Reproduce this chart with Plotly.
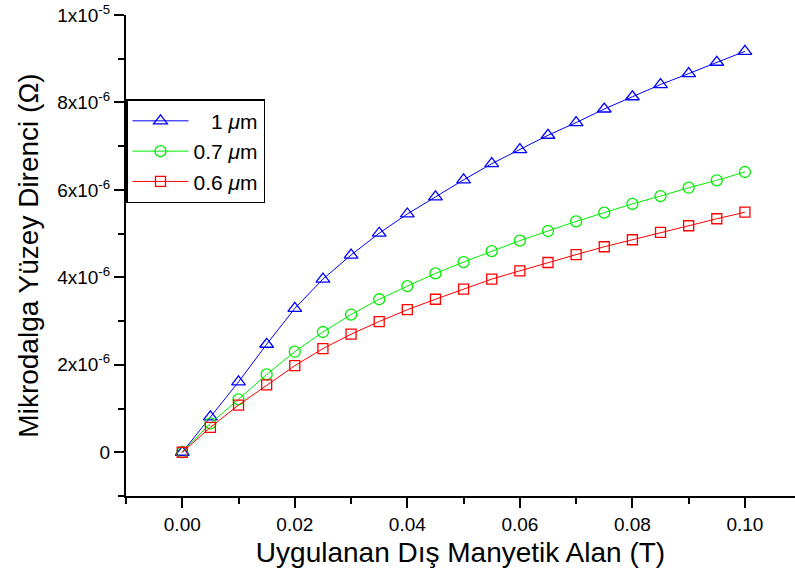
import plotly.graph_objects as go

# Applied external magnetic field (T)
field_T = [0.000, 0.005, 0.010, 0.015, 0.020, 0.025, 0.030, 0.035, 0.040, 0.045, 0.050,
           0.055, 0.060, 0.065, 0.070, 0.075, 0.080, 0.085, 0.090, 0.095, 0.100]

# Microwave surface resistance (Ohm) for three thicknesses
rs_1um = [0.0, 0.81e-6, 1.61e-6, 2.47e-6, 3.29e-6, 3.96e-6, 4.51e-6, 5.01e-6, 5.45e-6, 5.84e-6, 6.23e-6,
          6.60e-6, 6.92e-6, 7.25e-6, 7.54e-6, 7.85e-6, 8.13e-6, 8.41e-6, 8.66e-6, 8.92e-6, 9.17e-6]
rs_07um = [0.0, 0.66e-6, 1.21e-6, 1.78e-6, 2.30e-6, 2.75e-6, 3.15e-6, 3.50e-6, 3.80e-6, 4.09e-6, 4.35e-6,
           4.60e-6, 4.84e-6, 5.06e-6, 5.28e-6, 5.48e-6, 5.68e-6, 5.86e-6, 6.05e-6, 6.22e-6, 6.41e-6]
rs_06um = [0.0, 0.57e-6, 1.08e-6, 1.54e-6, 1.98e-6, 2.37e-6, 2.70e-6, 2.99e-6, 3.26e-6, 3.50e-6, 3.73e-6,
           3.96e-6, 4.15e-6, 4.34e-6, 4.52e-6, 4.70e-6, 4.86e-6, 5.03e-6, 5.18e-6, 5.34e-6, 5.49e-6]

series_names = ["\u00a0\u00a0\u00a01 <i>\u03bc</i>m", "0.7 <i>\u03bc</i>m", "0.6 <i>\u03bc</i>m"]
series_values = [rs_1um, rs_07um, rs_06um]
series_colors = ["#0000ff", "#00ee00", "#ff0000"]
series_symbols = ["triangle-up-open", "circle-open", "square-open"]
series_sizes = [12, 11, 10]

x_tickvals = [0.00, 0.02, 0.04, 0.06, 0.08, 0.10]
x_ticktext = ["0.00", "0.02", "0.04", "0.06", "0.08", "0.10"]
x_minorvals = [-0.01, 0.01, 0.03, 0.05, 0.07, 0.09]

y_tickvals = [0, 2e-6, 4e-6, 6e-6, 8e-6, 1e-5]
y_ticktext = ["0", "2x10<sup>-6</sup>", "4x10<sup>-6</sup>", "6x10<sup>-6</sup>",
              "8x10<sup>-6</sup>", "1x10<sup>-5</sup>"]
y_minorvals = [-1e-6, 1e-6, 3e-6, 5e-6, 7e-6, 9e-6]

FONT = "Arial, 'Liberation Sans', sans-serif"

fig = go.Figure()
for name, vals, col, sym, sz in zip(series_names, series_values, series_colors,
                                    series_symbols, series_sizes):
    fig.add_trace(go.Scatter(
        x=field_T, y=vals, name=name, mode="lines+markers",
        line=dict(color=col, width=1),
        marker=dict(symbol=sym, size=sz, color=col, line=dict(color=col, width=1.3)),
    ))

axis_common = dict(
    showline=True, linecolor="black", linewidth=2,
    ticks="outside", ticklen=10, tickwidth=2, tickcolor="black",
    showgrid=False, zeroline=False, mirror=False,
    tickfont=dict(family=FONT, size=19, color="black"),
)

fig.update_xaxes(
    range=[-0.01, 0.1089], tickmode="array", tickvals=x_tickvals, ticktext=x_ticktext,
    minor=dict(tickmode="array", tickvals=x_minorvals, ticks="outside", ticklen=6,
               tickwidth=2, tickcolor="black", showgrid=False),
    title=dict(text="Uygulanan Dış Manyetik Alan (T)", standoff=9,
               font=dict(family=FONT, size=28, color="black")),
    **axis_common,
)
fig.update_yaxes(
    range=[-1e-6, 1e-5], tickmode="array", tickvals=y_tickvals, ticktext=y_ticktext,
    minor=dict(tickmode="array", tickvals=y_minorvals, ticks="outside", ticklen=6,
               tickwidth=2, tickcolor="black", showgrid=False),
    title=dict(text="Mikrodalga Yüzey Direnci (Ω)", standoff=10,
               font=dict(family=FONT, size=28, color="black")),
    **axis_common,
)

fig.update_layout(
    width=795, height=584,
    margin=dict(l=126, r=0, t=15, b=88),
    paper_bgcolor="white", plot_bgcolor="white",
    font=dict(family=FONT, color="black"),
    legend=dict(
        x=0, y=0.825, xanchor="left", yanchor="top",
        bgcolor="white", bordercolor="black", borderwidth=1.5,
        font=dict(family=FONT, size=21, color="black"),
        itemwidth=56, tracegroupgap=0,
    ),
    showlegend=True,
)

fig.write_html("out.html")
